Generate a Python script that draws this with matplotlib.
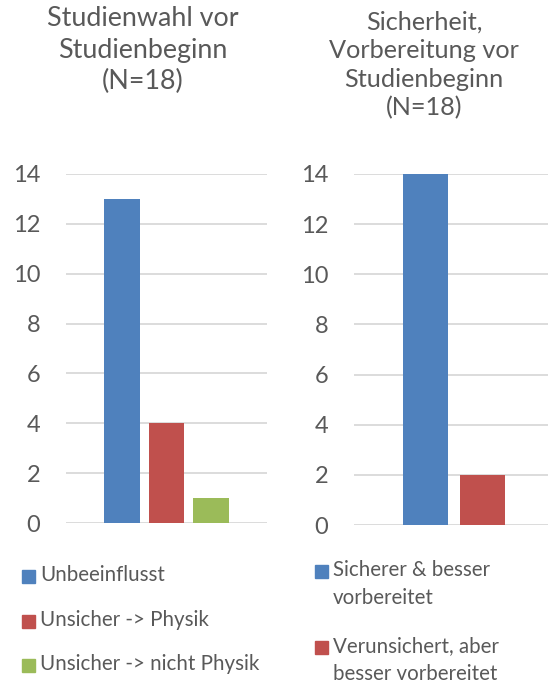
import matplotlib

matplotlib.use("Agg")

import matplotlib.pyplot as plt
from matplotlib.patches import Rectangle

# Studienwahl vor Studienbeginn
left_labels = ["Unbeeinflusst", "Unsicher -> Physik", "Unsicher -> nicht Physik"]
left_values = [13, 4, 1]

# Sicherheit, Vorbereitung vor Studienbeginn
right_labels = ["Sicherer & besser\nvorbereitet", "Verunsichert, aber\nbesser vorbereitet"]
right_values = [14, 2]

colors = ["#4F81BD", "#C0504D", "#9BBB59"]
text_color = "#595959"
grid_color = "#D9D9D9"
font = "Lato"

plt.rcParams["font.family"] = [font, "DejaVu Sans"]

fig = plt.figure(figsize=(5.5, 6.84), dpi=100)
W, H = 550, 684


def px_axes(x0, x1, y_top, y_bot):
    return fig.add_axes([x0 / W, 1 - y_bot / H, (x1 - x0) / W, (y_bot - y_top) / H])


def style_axes(ax):
    ax.set_ylim(0, 14)
    ax.set_yticks(range(0, 15, 2))
    ax.set_xticks([])
    ax.grid(axis="y", color=grid_color, linewidth=1.3)
    ax.set_axisbelow(True)
    for s in ax.spines.values():
        s.set_visible(False)
    ax.tick_params(axis="y", length=0, labelsize=17, labelcolor=text_color, pad=18.5)


def legend_entry(x, y, color, label):
    # square swatch aligned with the first text line, label to its right
    sq = 13
    fig.patches.append(Rectangle((x / W, 1 - (y + sq / 2) / H), sq / W, sq / H,
                                 transform=fig.transFigure, color=color))
    fig.text((x + sq + 5) / W, 1 - (y - 11) / H, label, ha="left", va="top",
             fontsize=14.8, color=text_color, linespacing=1.5)


ax1 = px_axes(66, 267, 174, 523)
step1, width1 = 0.221, 0.179
bars1 = []
for i, (lab, v) in enumerate(zip(left_labels, left_values)):
    bars1.append(ax1.bar((i - 1) * step1, v, width=width1, color=colors[i], label=lab))
ax1.set_xlim(-0.5, 0.5)
style_axes(ax1)

ax2 = px_axes(354, 548, 174, 525)
step2, width2 = 0.294, 0.232
bars2 = []
for i, (lab, v) in enumerate(zip(right_labels, right_values)):
    bars2.append(ax2.bar((i - 0.5) * step2 + 0.016, v, width=width2, color=colors[i], label=lab))
ax2.set_xlim(-0.5, 0.5)
style_axes(ax2)

fig.text(143 / W, 1 - 6 / H, "Studienwahl vor\nStudienbeginn\n(N=18)", ha="center", va="top",
         fontsize=19.4, color=text_color, linespacing=1.33)
fig.text(424 / W, 1 - 11 / H, "Sicherheit,\nVorbereitung vor\nStudienbeginn\n(N=18)", ha="center",
         va="top", fontsize=18.2, color=text_color, linespacing=1.28)

for (b, lab), y in zip(zip(bars1, left_labels), [576, 621, 665]):
    legend_entry(22, y, b.patches[0].get_facecolor(), lab)
for (b, lab), y in zip(zip(bars2, right_labels), [571, 647]):
    legend_entry(315, y, b.patches[0].get_facecolor(), lab)

fig.savefig("out.png", dpi=100)
